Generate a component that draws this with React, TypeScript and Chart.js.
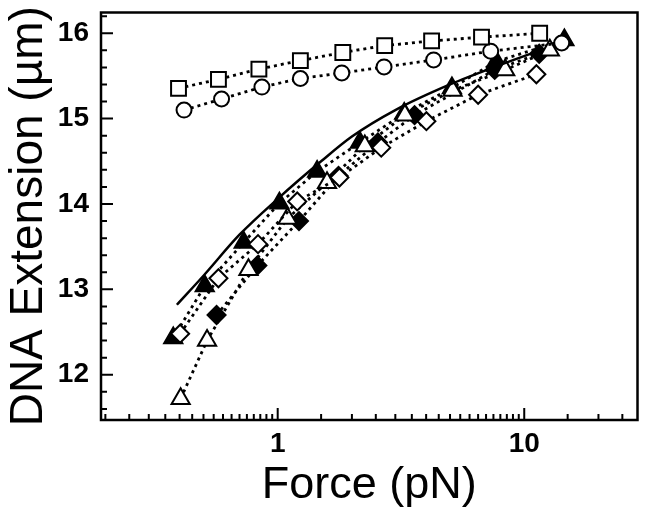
import React, { useEffect, useRef } from "react";
import { Chart, registerables } from "chart.js";

Chart.register(...registerables);

// ---- data (Force in pN, extension in µm) ----
const squareForce = [0.396, 0.575, 0.839, 1.236, 1.837, 2.716, 4.21, 6.71, 11.55];
const squareExt = [15.355, 15.46, 15.58, 15.68, 15.775, 15.855, 15.91, 15.954, 16.0];

const circleForce = [0.417, 0.592, 0.863, 1.236, 1.82, 2.7, 4.29, 7.31, 14.19];
const circleExt = [15.1, 15.23, 15.37, 15.47, 15.535, 15.605, 15.687, 15.79, 15.886];

const filledTriForce = [0.377, 0.506, 0.728, 1.016, 1.445, 2.154, 3.26, 5.09, 7.7, 14.55];
const filledTriExt = [12.43, 13.04, 13.55, 14.01, 14.38, 14.72, 15.06, 15.36, 15.67, 15.92];

const openTriForce = [0.404, 0.517, 0.761, 1.096, 1.585, 2.256, 3.28, 5.12, 8.37, 12.7];
const openTriExt = [11.72, 12.4, 13.23, 13.83, 14.25, 14.68, 15.04, 15.33, 15.57, 15.8];

const filledDiaForce = [0.565, 0.827, 1.22, 1.765, 2.55, 3.59, 7.59, 11.5];
const filledDiaExt = [12.7, 13.28, 13.8, 14.33, 14.72, 15.04, 15.57, 15.76];

const openDiaForce = [0.402, 0.575, 0.832, 1.2, 1.78, 2.63, 4.01, 6.5, 11.2];
const openDiaExt = [12.48, 13.13, 13.53, 14.03, 14.31, 14.66, 14.97, 15.28, 15.52];

const modelForce = [0.39, 0.5, 0.7, 1.0, 1.5, 2.0, 3.0, 5.0, 8.0, 11.6];
const modelExt = [12.82, 13.16, 13.64, 14.06, 14.5, 14.79, 15.1, 15.4, 15.63, 15.8];

// ---- axis ticks ----
const xMajorTicks = [1, 10];
const xMinorTicks = [
  0.2, 0.25, 0.3, 0.35, 0.4, 0.45, 0.5, 0.55, 0.6, 0.65, 0.7, 0.75, 0.8, 0.85, 0.9, 0.95,
  1.5, 2, 2.5, 3, 3.5, 4, 4.5, 5, 5.5, 6, 6.5, 7, 7.5, 8, 8.5, 9, 9.5,
  15, 20, 25,
];
const yMajorTicks = [12, 13, 14, 15, 16];
const yMinorTicks = [
  11.6, 11.8, 12.2, 12.4, 12.6, 12.8, 13.2, 13.4, 13.6, 13.8,
  14.2, 14.4, 14.6, 14.8, 15.2, 15.4, 15.6, 15.8, 16.2,
];

const xMin = 0.192;
const xMax = 28.8;
const yMin = 11.47;
const yMax = 16.243;

const FONT = "'Liberation Sans', Arial, Helvetica, sans-serif";

const pts = (xs: number[], ys: number[]) => xs.map((x, i) => ({ x, y: ys[i] }));

const dotted = (
  label: string,
  xs: number[],
  ys: number[],
  style: string,
  radius: number,
  filled: boolean
) => ({
  label,
  data: pts(xs, ys),
  showLine: true,
  borderColor: "#000",
  borderWidth: 2.8,
  borderDash: [3, 4],
  pointStyle: style,
  pointRadius: radius,
  pointBorderWidth: 2,
  pointBorderColor: "#000",
  pointBackgroundColor: filled ? "#000" : "#fff",
  tension: 0,
});

const frameTicks = {
  id: "frameTicks",
  afterDatasetsDraw(chart: any) {
    const { ctx, chartArea: a, scales } = chart;
    const xs = scales.x;
    const ys = scales.y;
    ctx.save();
    ctx.strokeStyle = "#000";
    ctx.lineWidth = 2;
    ctx.beginPath();
    for (const v of xMinorTicks) {
      const p = xs.getPixelForValue(v);
      ctx.moveTo(p, a.bottom);
      ctx.lineTo(p, a.bottom - 6);
    }
    for (const v of xMajorTicks) {
      const p = xs.getPixelForValue(v);
      ctx.moveTo(p, a.bottom);
      ctx.lineTo(p, a.bottom - 12);
    }
    for (const v of yMinorTicks) {
      const p = ys.getPixelForValue(v);
      ctx.moveTo(a.left, p);
      ctx.lineTo(a.left + 6, p);
    }
    for (const v of yMajorTicks) {
      const p = ys.getPixelForValue(v);
      ctx.moveTo(a.left, p);
      ctx.lineTo(a.left + 12, p);
    }
    ctx.stroke();
    ctx.lineWidth = 2.5;
    ctx.strokeRect(a.left, a.top, a.right - a.left, a.bottom - a.top);
    ctx.restore();
  },
};

export default function App() {
  const ref = useRef<HTMLCanvasElement | null>(null);

  useEffect(() => {
    document.body.style.margin = "0";
    const canvas = ref.current;
    if (!canvas) return;
    const chart = new Chart(canvas, {
      type: "scatter",
      data: {
        datasets: [
          {
            label: "Model",
            data: pts(modelForce, modelExt),
            showLine: true,
            borderColor: "#000",
            borderWidth: 2.5,
            pointRadius: 0,
            cubicInterpolationMode: "monotone",
          } as any,
          dotted("Squares", squareForce, squareExt, "rect", 10.5, false),
          dotted("Circles", circleForce, circleExt, "circle", 7.5, false),
          dotted("Open diamonds", openDiaForce, openDiaExt, "rectRot", 9, false),
          dotted("Open triangles", openTriForce, openTriExt, "triangle", 10.5, false),
          dotted("Filled diamonds", filledDiaForce, filledDiaExt, "rectRot", 9, true),
          dotted("Filled triangles", filledTriForce, filledTriExt, "triangle", 10.5, true),
        ],
      },
      options: {
        animation: false,
        responsive: false,
        devicePixelRatio: 1,
        clip: false,
        layout: { padding: { top: 3, right: 5, left: 0, bottom: 0 } },
        plugins: {
          legend: { display: false },
          tooltip: { enabled: false },
        },
        scales: {
          x: {
            type: "logarithmic",
            min: xMin,
            max: xMax,
            border: { display: false },
            grid: { display: false, drawTicks: false },
            afterBuildTicks: (s: any) => {
              s.ticks = xMajorTicks.map((v) => ({ value: v }));
            },
            afterFit: (s: any) => {
              s.height = 96;
              s.paddingLeft = 0;
              s.paddingRight = 0;
            },
            ticks: {
              autoSkip: false,
              maxRotation: 0,
              padding: 7,
              color: "#000",
              font: { family: FONT, size: 28, weight: "bold" },
              callback: (v: any) => String(v),
            },
            title: {
              display: true,
              text: "Force (pN)",
              color: "#000",
              font: { family: FONT, size: 45, weight: "normal" },
              padding: { top: 0, bottom: 3 },
            },
          },
          y: {
            type: "linear",
            min: yMin,
            max: yMax,
            border: { display: false },
            grid: { display: false, drawTicks: false },
            afterBuildTicks: (s: any) => {
              s.ticks = yMajorTicks.map((v) => ({ value: v }));
            },
            afterFit: (s: any) => {
              s.width = 101;
              s.paddingTop = 0;
              s.paddingBottom = 0;
            },
            ticks: {
              autoSkip: false,
              padding: 12,
              color: "#000",
              font: { family: FONT, size: 28, weight: "bold" },
              callback: (v: any) => String(v),
            },
            title: {
              display: true,
              text: "DNA Extension (µm)",
              color: "#000",
              font: { family: FONT, size: 46, weight: "normal" },
              padding: { top: 2, bottom: 0 },
            },
          },
        },
      },
      plugins: [frameTicks],
    });
    return () => chart.destroy();
  }, []);

  return (
    <div style={{ width: 650, height: 516, background: "#fff" }}>
      <canvas ref={ref} width={650} height={516} />
    </div>
  );
}
